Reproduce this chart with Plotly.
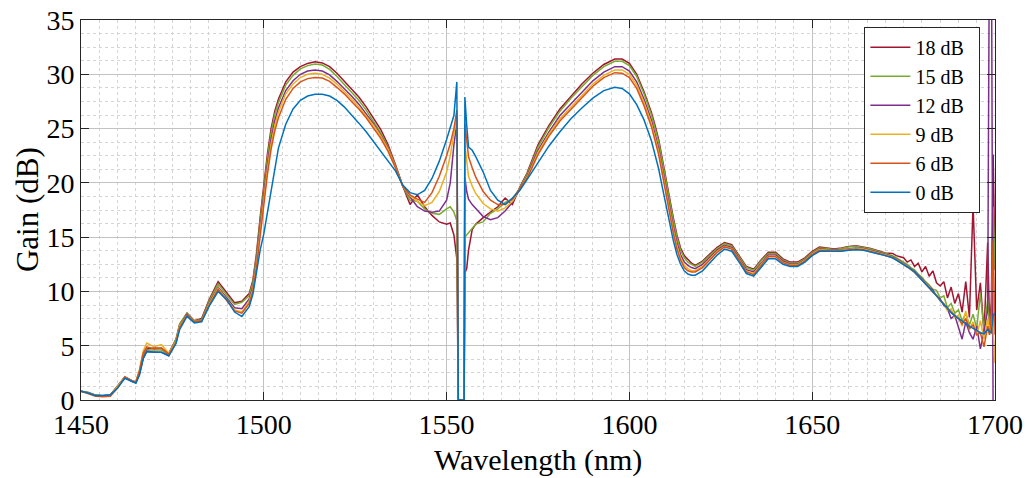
import plotly.graph_objects as go

# Wavelength grid (nm)
wavelength = [
    1450, 1452, 1454, 1456, 1458, 1460, 1462, 1464,
    1465, 1466, 1467, 1468,
    1470, 1472, 1474, 1476,
    1477, 1479, 1481, 1483, 1485, 1487.5,
    1490, 1492, 1494, 1496,
    1497, 1498, 1499, 1500, 1501, 1502, 1503, 1504,
    1506, 1508, 1510, 1512, 1514, 1516, 1518, 1520, 1522, 1524, 1526, 1528,
    1530, 1532, 1534, 1536, 1538, 1540, 1542, 1544, 1546, 1548, 1550,
    1551, 1552, 1552.8, 1553.2, 1554.8, 1555.0, 1555.5,
    1556, 1557, 1558,
    1560, 1562, 1564, 1566, 1568, 1570, 1572,
    1575, 1578, 1581, 1584, 1587, 1590, 1593, 1596,
    1598, 1600, 1602, 1604, 1606,
    1607, 1608, 1609, 1610, 1611, 1612, 1613, 1614, 1615, 1616, 1617, 1618,
    1620, 1622, 1624, 1626, 1628, 1630, 1632, 1634, 1636, 1638, 1640, 1642, 1644,
    1646, 1648, 1650, 1652, 1654, 1656, 1658, 1660, 1662, 1664, 1666, 1668, 1670,
    1672, 1673, 1674, 1675, 1676, 1677, 1678, 1679, 1680, 1681, 1682, 1683, 1684,
    1685, 1686, 1687, 1688, 1689, 1690, 1691, 1692, 1693, 1694, 1695, 1696, 1697, 1698,
    1698.5, 1699, 1699.5, 1700,
]

gain_18dB = [
    0.8, 0.7, 0.45, 0.4, 0.45, 1.3, 2.15, 1.75,
    1.65, 2.6, 4.0, 4.7,
    4.8, 4.75, 4.3, 5.6,
    7.0, 8.0, 7.3, 7.5, 9.2, 10.9,
    9.8, 8.95, 9.1, 9.8,
    11.0, 13.5, 16.8, 20.0, 22.7, 25.0, 26.6, 27.7,
    29.3, 30.2, 30.7, 31.0, 31.15, 31.05, 30.7, 30.1, 29.4, 28.7, 27.9, 27.0,
    26.0, 24.9, 23.5, 21.7, 19.7, 18.0, 18.9, 17.8, 17.0, 16.4, 16.2,
    16.3, 15.2, 13.0, 0, 0, 11.7, 12.1,
    13.8, 15.7, 16.2,
    16.8, 17.3, 17.8, 18.6, 18.0, 19.6, 20.9,
    23.5, 25.3, 26.8, 28.0, 29.1, 30.1, 30.9, 31.4,
    31.4, 31.0, 30.0, 28.4, 26.5,
    25.3, 24.0, 22.2, 20.3, 18.5, 16.8, 15.2, 14.0, 13.3, 12.9, 12.6, 12.4,
    12.8, 13.45, 14.05, 14.5, 14.3, 13.3, 12.3, 12.05, 12.9, 13.6, 13.6, 13.0, 12.7,
    12.7, 13.1, 13.7, 14.1, 14.0, 13.9, 14.0, 14.15, 14.2, 14.1, 13.95, 13.75, 13.55,
    13.5, 13.3, 13.2, 13.1, 12.7, 12.9, 12.3, 12.6, 11.8, 12.3, 11.4, 11.9, 10.8,
    10.5, 10.9, 9.4, 10.4, 8.9, 9.8, 8.1, 10.9, 7.6, 18.0, 8.3, 10.8, 6.2, 14.5,
    7.0, 9.0, 22.6, 12.0,
]

gain_15dB = [
    0.8, 0.7, 0.45, 0.4, 0.45, 1.25, 2.1, 1.75,
    1.6, 2.5, 3.9, 4.6,
    4.6, 4.6, 4.2, 5.6,
    7.0, 8.0, 7.3, 7.4, 9.1, 10.7,
    9.6, 8.8, 9.0, 9.6,
    10.8, 13.2, 16.4, 19.6, 22.3, 24.6, 26.3, 27.4,
    29.0, 29.9, 30.5, 30.8, 30.95, 30.85, 30.45, 29.8, 29.1, 28.4, 27.6, 26.7,
    25.7, 24.6, 23.3, 21.6, 19.7, 18.4, 18.3, 17.6, 17.2, 17.1, 17.6,
    17.8, 17.3, 16.5, 0, 0, 15.0, 15.2,
    15.5, 15.8, 16.2,
    16.4, 17.2, 17.6, 18.2, 18.5, 19.5, 20.8,
    23.3, 25.1, 26.6, 27.8, 28.9, 29.9, 30.7, 31.2,
    31.2, 30.8, 29.8, 28.2, 26.3,
    25.1, 23.8, 22.0, 20.1, 18.3, 16.6, 15.0, 13.8, 13.1, 12.7, 12.5, 12.3,
    12.7, 13.35, 13.95, 14.4, 14.2, 13.2, 12.2, 11.95, 12.8, 13.5, 13.5, 12.9, 12.6,
    12.6, 13.0, 13.6, 14.0, 13.95, 13.85, 13.95, 14.1, 14.15, 14.05, 13.9, 13.7, 13.5,
    13.3, 13.1, 12.9, 12.7, 12.5, 12.2, 12.0, 11.6, 11.3, 10.9, 10.6, 10.2, 10.1,
    9.4, 9.6, 8.5, 8.9, 8.0, 8.3, 7.3, 8.0, 6.9, 7.9, 6.6, 9.8, 6.4, 9.2,
    7.0, 6.8, 17.8, 12.0,
]

gain_12dB = [
    0.8, 0.65, 0.42, 0.4, 0.45, 1.2, 2.05, 1.7,
    1.6, 2.4, 3.8, 4.5,
    4.4, 4.4, 4.1, 5.4,
    6.8, 7.9, 7.2, 7.3, 8.9, 10.4,
    9.3, 8.5, 8.4, 9.3,
    10.4, 12.8, 15.9, 19.0, 21.7, 24.0, 25.7, 26.9,
    28.5, 29.4, 30.0, 30.3, 30.4, 30.3, 29.95, 29.35, 28.7, 28.0, 27.25, 26.4,
    25.45, 24.4, 23.2, 21.5, 19.7, 18.7, 17.8, 17.4, 17.3, 17.4, 18.4,
    20.0, 23.5, 25.5, 0, 0, 20.5, 19.2,
    18.5, 18.0, 17.6,
    16.9, 16.6, 16.8, 17.4, 18.2, 19.4, 20.6,
    23.0, 24.7, 26.2, 27.3, 28.4, 29.4, 30.2, 30.7,
    30.7, 30.3, 29.3, 27.7, 25.8,
    24.6, 23.2, 21.4, 19.5, 17.7, 16.0, 14.5, 13.4, 12.7, 12.4, 12.2, 12.1,
    12.5, 13.15, 13.8, 14.25, 14.05, 13.05, 12.0, 11.8, 12.6, 13.35, 13.35, 12.8, 12.5,
    12.5, 12.9, 13.5, 13.9, 13.85, 13.8, 13.85, 13.95, 14.0, 13.95, 13.8, 13.6, 13.4,
    13.2, 13.0, 12.8, 12.6, 12.35, 12.1, 11.85, 11.5, 11.15, 10.8, 10.4, 10.1, 9.6,
    9.3, 8.7, 8.4, 7.5, 7.8, 6.7, 5.6, 7.2, 6.2, 5.6, 6.8, 4.7, 6.3, 8.3,
    45.0, 45.0, -3.0, -3.0,
]

gain_9dB = [
    0.8, 0.65, 0.4, 0.35, 0.4, 1.2, 2.1, 1.75,
    1.7, 2.8, 4.5, 5.25,
    4.9, 5.1, 4.3, 5.4,
    6.8, 7.8, 7.2, 7.3, 8.8, 10.3,
    9.2, 8.3, 8.1, 9.1,
    10.2, 12.5, 15.5, 18.6, 21.3, 23.6, 25.3, 26.5,
    28.2, 29.1, 29.7, 30.0, 30.1, 30.0, 29.65, 29.1, 28.45, 27.75, 27.0, 26.2,
    25.3, 24.3, 23.1, 21.45, 19.7, 18.8, 18.3, 17.9, 18.2, 19.2, 21.0,
    22.5, 24.5, 26.2, 0, 0, 23.5, 21.8,
    20.6, 19.7, 19.0,
    18.1, 17.6, 17.4, 17.7, 18.3, 19.4, 20.5,
    22.8, 24.5, 25.9, 27.0, 28.1, 29.1, 29.9, 30.4,
    30.4, 30.0, 29.0, 27.4, 25.5,
    24.3, 22.9, 21.1, 19.2, 17.4, 15.7, 14.2, 13.1, 12.4, 12.1, 11.9, 11.9,
    12.3, 13.0, 13.7, 14.15, 13.95, 12.95, 11.85, 11.65, 12.5, 13.25, 13.25, 12.7, 12.45,
    12.45, 12.85, 13.45, 13.85, 13.8, 13.75, 13.8, 13.9, 13.95, 13.9, 13.75, 13.55, 13.35,
    13.15, 12.95, 12.75, 12.55, 12.3, 12.05, 11.8, 11.45, 11.1, 10.7, 10.4, 9.9, 9.7,
    9.1, 8.9, 8.2, 8.4, 7.6, 7.8, 6.8, 8.2, 6.5, 7.2, 6.0, 7.3, 5.6, 7.5,
    6.0, 7.1, 6.5, 3.4,
]

gain_6dB = [
    0.8, 0.6, 0.35, 0.3, 0.35, 1.1, 2.1, 1.75,
    1.65, 2.7, 4.3, 4.9,
    4.7, 4.8, 4.2, 5.3,
    6.7, 7.8, 7.2, 7.3, 8.7, 10.2,
    9.1, 8.2, 8.0, 8.9,
    10.0, 12.2, 15.1, 18.1, 20.8, 23.1, 24.8, 26.0,
    27.7, 28.7, 29.3, 29.6, 29.7, 29.65, 29.35, 28.8, 28.2, 27.5, 26.8, 26.0,
    25.1, 24.1, 22.9, 21.4, 19.7, 18.9, 18.5, 18.2, 19.1, 20.6, 22.5,
    23.6, 25.0, 26.7, 0, 0, 25.5, 23.6,
    22.4, 21.4, 20.5,
    19.2, 18.4, 18.0, 18.0, 18.5, 19.4, 20.4,
    22.6, 24.3, 25.7, 26.8, 27.9, 28.9, 29.7, 30.15,
    30.1, 29.7, 28.7, 27.1, 25.2,
    24.0, 22.6, 20.8, 18.9, 17.1, 15.4, 13.9, 12.9, 12.2, 11.9, 11.8, 11.8,
    12.2, 12.9, 13.6, 14.1, 13.9, 12.9, 11.8, 11.55, 12.4, 13.2, 13.2, 12.65, 12.4,
    12.4, 12.8, 13.4, 13.8, 13.75, 13.7, 13.75, 13.85, 13.9, 13.85, 13.7, 13.5, 13.3,
    13.1, 12.9, 12.7, 12.5, 12.25, 12.0, 11.75, 11.4, 11.05, 10.65, 10.3, 9.95, 9.6,
    9.2, 8.8, 8.5, 8.1, 7.8, 7.5, 7.0, 7.5, 6.6, 6.9, 6.0, 6.2, 4.9, 6.8,
    6.0, 8.0, 14.7, 6.0,
]

gain_0dB = [
    0.8, 0.65, 0.4, 0.4, 0.45, 1.1, 2.0, 1.7,
    1.55, 2.3, 3.8, 4.45,
    4.45, 4.4, 4.05, 5.2,
    6.5, 7.7, 7.1, 7.2, 8.6, 10.0,
    9.2, 8.1, 7.7, 8.6,
    9.7, 11.8, 13.8, 15.3, 17.3, 19.6, 21.6, 23.2,
    25.4, 26.8, 27.6, 28.0, 28.15, 28.15, 28.0, 27.6, 27.0, 26.3, 25.5, 24.7,
    23.8, 22.9, 22.0, 21.1, 19.8, 19.1, 18.9, 19.3, 20.4, 22.0, 24.0,
    25.0, 26.2, 29.3, 0, 0, 27.9, 25.3,
    23.3, 23.0, 22.4,
    21.0, 19.3, 18.4, 18.0, 18.6, 19.3, 20.3,
    21.9, 23.4, 24.7, 25.9, 26.9, 27.8, 28.5, 28.8,
    28.7, 28.2, 27.2, 25.8, 23.9,
    22.7, 21.3, 19.6, 17.9, 16.2, 14.7, 13.4, 12.5, 11.9, 11.6, 11.5, 11.5,
    11.9, 12.6, 13.35, 13.9, 13.7, 12.7, 11.65, 11.4, 12.2, 13.0, 13.0, 12.5, 12.3,
    12.3, 12.7, 13.3, 13.7, 13.7, 13.65, 13.7, 13.8, 13.85, 13.8, 13.65, 13.45, 13.3,
    13.1, 12.9, 12.7, 12.5, 12.3, 12.05, 11.8, 11.45, 11.1, 10.7, 10.3, 9.95, 9.6,
    9.2, 8.8, 8.4, 8.05, 7.75, 7.5, 7.25, 7.0, 6.8, 6.6, 6.4, 6.2, 6.1, 6.5,
    6.3, 6.2, 7.8, 8.0,
]

series_names = ["18 dB", "15 dB", "12 dB", "9 dB", "6 dB", "0 dB"]
series_values = [gain_18dB, gain_15dB, gain_12dB, gain_9dB, gain_6dB, gain_0dB]
series_colors = ["#A2142F", "#77AC30", "#7E2F8E", "#EDB120", "#D95319", "#0072BD"]

x_ticks = [1450, 1500, 1550, 1600, 1650, 1700]
y_ticks = [0, 5, 10, 15, 20, 25, 30, 35]

for v in series_values:
    assert len(v) == len(wavelength), (len(v), len(wavelength))

FONT = "Liberation Serif"
AX = "#262626"
PAD = "\u00a0\u00a0"

fig = go.Figure()
for name, vals, col in zip(series_names, series_values, series_colors):
    fig.add_trace(go.Scatter(x=wavelength, y=vals, mode="lines", name=name + PAD,
                             line=dict(color=col, width=1.5)))

axis_common = dict(
    showline=True, linecolor=AX, linewidth=1, mirror="allticks",
    ticks="inside", ticklen=8, tickcolor=AX, tickwidth=1,
    showgrid=True, gridcolor="#c2c2c2", gridwidth=1,
    zeroline=False, automargin=False,
    tickfont=dict(family=FONT, size=28, color="#000000"),
)

fig.update_layout(
    width=1030, height=478,
    margin=dict(l=81, r=35, t=20, b=78),
    paper_bgcolor="white", plot_bgcolor="white",
    xaxis=dict(range=[1450, 1700], tickvals=x_ticks, ticklabelstandoff=-1,
               minor=dict(dtick=5, tick0=1450, showgrid=True, gridcolor="#d4d4d4",
                          griddash="dot", gridwidth=1),
               **axis_common),
    yaxis=dict(range=[0, 35], tickvals=y_ticks,
               minor=dict(dtick=1.25, tick0=0, showgrid=True, gridcolor="#d4d4d4",
                          griddash="dot", gridwidth=1),
               **axis_common),
    legend=dict(x=0.984, xanchor="right", y=0.982, yanchor="top",
                bgcolor="white", bordercolor=AX, borderwidth=1, itemwidth=40,
                font=dict(family=FONT, size=20, color="#000000")),
    showlegend=True,
    annotations=[
        dict(text="Wavelength (nm)", xref="paper", yref="paper", x=0.5, y=-0.158,
             xanchor="center", yanchor="middle", showarrow=False,
             font=dict(family=FONT, size=30, color="#000000")),
        dict(text="Gain (dB)", xref="paper", yref="paper", x=-0.059, y=0.5,
             xanchor="center", yanchor="middle", showarrow=False, textangle=-90,
             font=dict(family=FONT, size=31, color="#000000")),
    ],
)

fig.write_html("out.html")
